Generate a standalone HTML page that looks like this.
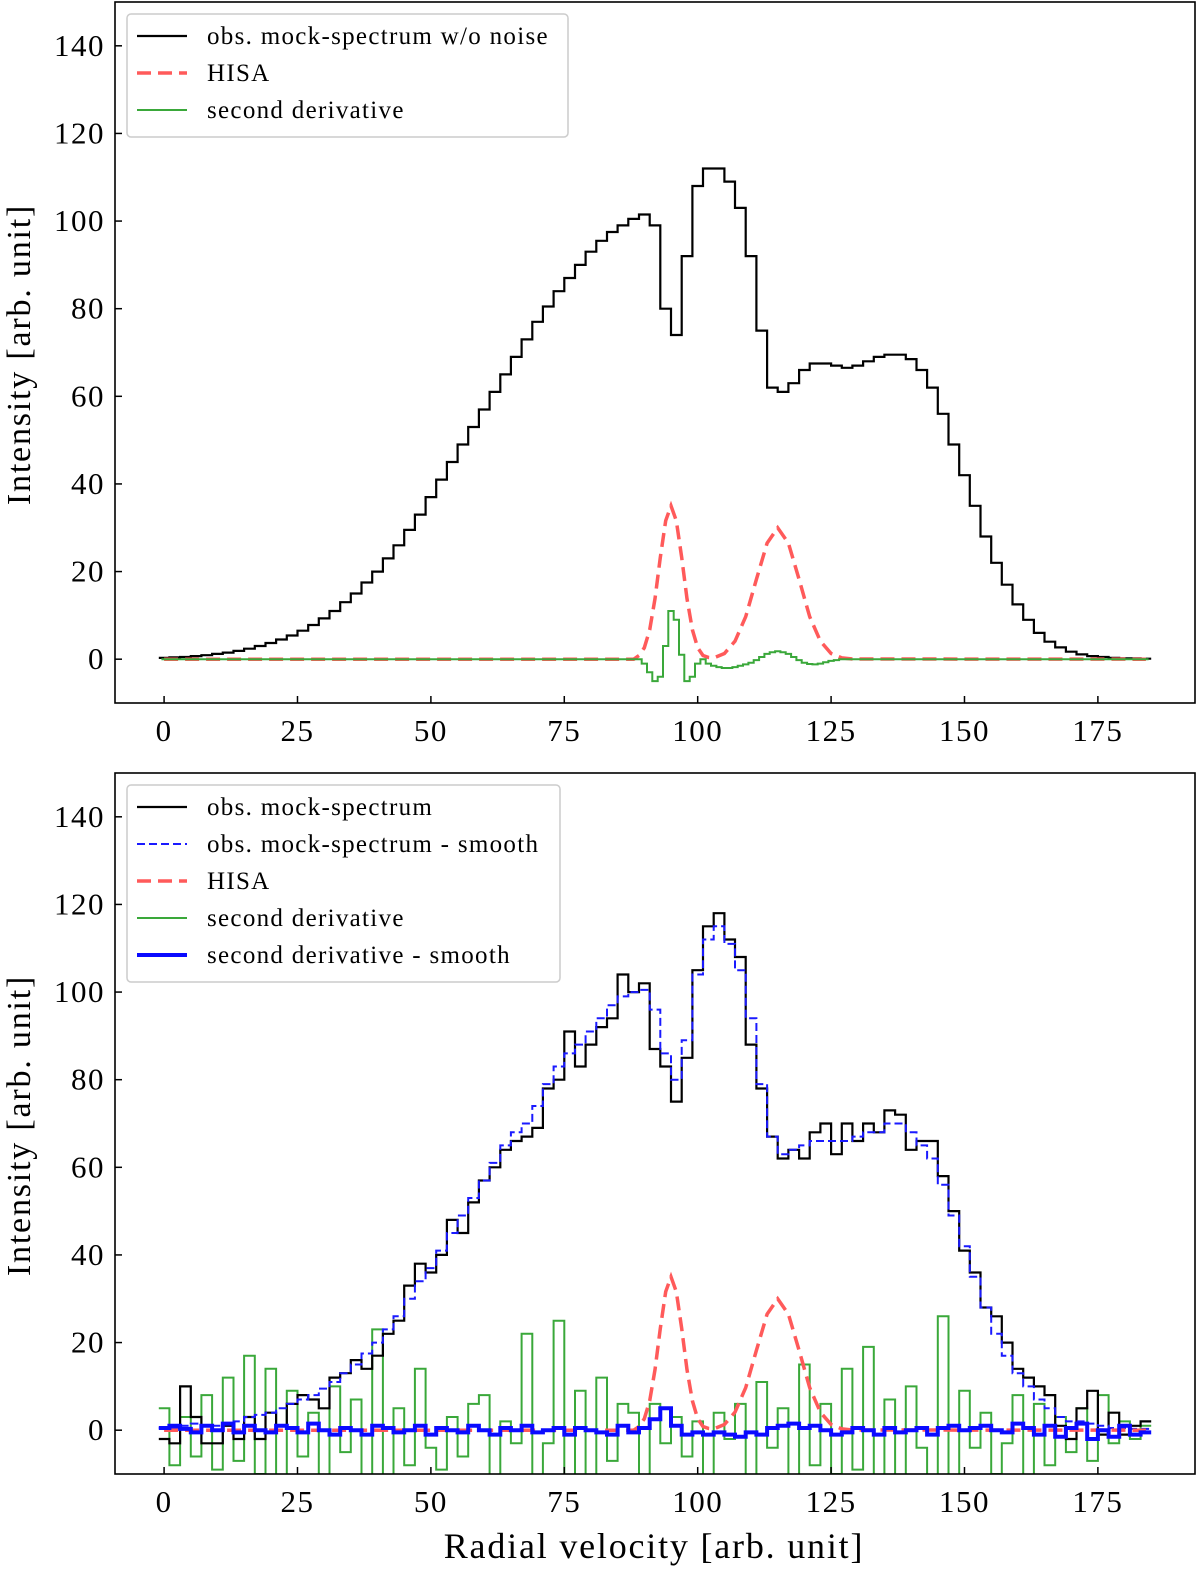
<!DOCTYPE html>
<html><head><meta charset="utf-8">
<style>
html,body{margin:0;padding:0;background:#fff;}
svg{display:block;font-family:"Liberation Serif","DejaVu Serif",serif;}
</style></head>
<body>
<svg id="chart" width="1200" height="1572" viewBox="0 0 1200 1572"></svg>
<script>
// ---- data ----
const xTicks = [0,25,50,75,100,125,150,175];
const yTicks = [0,20,40,60,80,100,120,140];
// top panel (every 2 channels, 0..184)
const obsClean = [0.3,0.4,0.5,0.7,0.9,1.2,1.5,1.9,2.4,3,3.7,4.5,5.4,6.5,7.8,9.3,11,13,15,17.5,20,23,26,29.5,33,37,41,45,49,53,57,61,65,69,73,77,80.5,84,87,90,93,95.5,97.5,99,100.5,101.5,99,80,74,92,108,112,112,109,103,92,75,62,61,63,66,67.5,67.5,67,66.5,67,68,69,69.5,69.5,68.5,66,62,56,49,42,35,28,22,17,12.5,9,6,4,2.7,1.7,1.1,0.7,0.5,0.3,0.2,0.2,0.1];
const hisaX = [0,88,89,90,91,92,93,94,95,96,97,98,99,100,101,102,103,105,107,109,111,113,115,117,119,121,123,125,127,129,184];
const hisaY = [0,0,0.85,2.6,6.7,13.8,23.2,31.6,35,31.6,23.2,13.8,6.7,2.6,0.85,0.4,0.3,1.3,4.1,9.7,18.2,26.5,30,26.5,18.2,9.7,4.1,1.3,0.3,0.05,0];
const derivStart = 86;
const derivClean = [0,0,0,0,-1,-3,-5,-4,3,11,9,1,-5,-4,-1,0,-1,-1.5,-1.8,-2,-2,-1.8,-1.5,-1.2,-0.8,-0.2,0.5,1.2,1.6,1.8,1.6,1.2,0.5,-0.2,-0.8,-1.1,-1.2,-1,-0.7,-0.4,-0.2,0,0,0,0,0,0];
// bottom panel (every 2 channels)
const obsNoisy = [-2,-3,10,3,-3,-3,1,-2,3,-2,4,1,6,8,7,5,12,13,16,14,17,22,25,33,38,36,40,48,45,52,57,60,64,66,67,69,78,80,91,83,88,92,94,104,100,102,87,83,75,85,105,115,118,112,108,88,78,67,62,64,62,68,70,63,70,66,70,68,73,72,64,66,66,58,50,41,36,28,26,20,14,12,10,8,1,-2,5,9,-1,4,-1,1,2];
const obsSmooth = [0.5,0.5,1,1.5,1,1,1.5,2,3,3.5,4,5,6,7,8,9.5,11,13,15,17.5,20,23,26,30,34,37,41,45,49,53,57,61,65,68,70,74,79,83,86,88,91,94,97,99,100,100.5,96,86,80,89,104,112,115,111,105,94,79,67,63,64,65,66,66,66,66,67,68,68,70,70,68,65,62,56,49,42,35,28,22,17,13,10,7,5,3,2,2,1.5,1,0.5,0.5,0.3,0.3];
const derivNoisy = [5,-8,3,-6,8,-9,12,-7,17,-10,14,-12,9,-6,4,-14,10,-5,7,-16,23,-11,5,-8,14,-4,-9,3,-6,6,8,-11,2,-3,22,-14,-3,25,-12,9,-20,12,-7,6,4,-18,6,-3,3,-6,2,-12,4,-2,6,-15,11,-4,5,-20,15,-8,6,-10,14,-9,19,-12,7,-16,10,-4,-11,26,-16,9,-4,4,-10,-3,8,-14,6,-8,3,-5,5,-7,8,-3,2,-2,1];
const derivSmooth = [0.5,1,0.3,-0.5,1,0,1.5,-0.5,1,0,-0.5,1,0.5,-0.5,1.5,0,-1,0.5,0,-1,1,0.5,-0.5,0,1,-1,0.5,0,-0.5,1,0,-1,0.5,0,1,-0.5,0,0.5,-1,0.5,0,-0.5,-1,1,-0.5,0.5,2.5,5,1,-1,-0.5,-1,-0.5,-1,-1.5,-0.5,-1,0.5,1,1.5,0.5,1,0,-1,-0.5,0.5,0,-1,0.5,-0.5,0,0.5,-1,0.5,1,0,0.5,1,0,-0.5,1.5,0.5,-1,1,-1.5,0.5,1.5,-2,0,-1.5,1,-1,-0.5];

// ---- drawing ----
const NS='http://www.w3.org/2000/svg';
const svg=document.getElementById('chart');
function mk(tag,attrs,parent){const e=document.createElementNS(NS,tag);for(const k in attrs)e.setAttribute(k,attrs[k]);(parent||svg).appendChild(e);return e;}

function panel(top,id){
  const L=115,R=1195,T=top,B=top+701;
  const xmin=-9.2,xmax=193.2,ymin=-10,ymax=150;
  const sx=v=>L+(v-xmin)/(xmax-xmin)*(R-L);
  const sy=v=>B-(v-ymin)/(ymax-ymin)*(B-T);
  const g=mk('g',{});
  
  
  const cid='clip-'+id;
  const cp=mk('clipPath',{id:cid},g);mk('rect',{x:L,y:T,width:R-L,height:B-T},cp);
  const plot=mk('g',{'clip-path':'url(#'+cid+')'},g);
  function stepPath(vals,start,step){
    let d='';vals.forEach((v,i)=>{const x0=sx(start+i*step-step/2),x1=sx(start+i*step+step/2),y=sy(v);d+=(i?'L':'M')+x0.toFixed(1)+','+y.toFixed(1)+'L'+x1.toFixed(1)+','+y.toFixed(1);});return d;}
  function linePath(xs,ys){return xs.map((x,i)=>(i?'L':'M')+sx(x).toFixed(1)+','+sy(ys[i]).toFixed(1)).join('');}
  return {g,plot,sx,sy,L,R,T,B,stepPath,linePath};
}
function axes(p,id){
  const g=p.g;
  yTicks.forEach(v=>{const y=p.sy(v);
    mk('line',{x1:p.L,x2:p.L+7,y1:y,y2:y,stroke:'#000','stroke-width':1.5},g);
    const t=mk('text',{x:p.L-10,y:y+10,'text-anchor':'end','font-size':31,'letter-spacing':1.5},g);t.textContent=v;
    
    });
  xTicks.forEach(v=>{const x=p.sx(v);
    mk('line',{x1:x,x2:x,y1:p.B,y2:p.B-7,stroke:'#000','stroke-width':1.5},g);
    const t=mk('text',{x:x,y:p.B+38,'text-anchor':'middle','font-size':31,'letter-spacing':1.5},g);t.textContent=v;
    
    });
  const fr=mk('rect',{x:p.L,y:p.T,width:p.R-p.L,height:p.B-p.T,fill:'none',stroke:'#000','stroke-width':1.6},g);
  
  
  const yl=mk('text',{x:0,y:0,'text-anchor':'middle','font-size':34,'letter-spacing':1.8,transform:'translate(30,'+((p.T+p.B)/2+2)+') rotate(-90)'},g);
  yl.textContent='Intensity [arb. unit]';
  
  
}
function legend(p,items,w){
  const lg=mk('g',{},p.g);
  
  
  const x=p.L+12,y=p.T+12,h=items.length*37+12;
  mk('rect',{x:x,y:y,width:w,height:h,rx:4,fill:'#fff','fill-opacity':0.85,stroke:'#ccc','stroke-width':1.5},lg);
  items.forEach((it,i)=>{const yy=y+22+i*37;
    const e=mk('g',{},lg);
    
    
    mk('line',{x1:x+10,x2:x+60,y1:yy,y2:yy,stroke:it.c,'stroke-width':it.w,'stroke-dasharray':it.d||'none'},e);
    const t=mk('text',{x:x+80,y:yy+8,'font-size':25,'letter-spacing':1.3},e);t.textContent=it.t;});
}

// top panel
const p1=panel(2,'top');
let e;
e=mk('path',{d:p1.stepPath(obsClean,0,2),fill:'none',stroke:'#000','stroke-width':2.2},p1.plot);


e=mk('path',{d:p1.linePath(hisaX,hisaY),fill:'none',stroke:'#ff5a5a','stroke-width':3.5,'stroke-dasharray':'14,7'},p1.plot);


const dFull=[];for(let c=0;c<=184;c++){const k=c-derivStart;dFull.push(k>=0&&k<derivClean.length?derivClean[k]:0);}
e=mk('path',{d:p1.stepPath(dFull,0,1),fill:'none',stroke:'#3aa83a','stroke-width':2},p1.plot);


axes(p1,'top');
legend(p1,[{t:'obs. mock-spectrum w/o noise',c:'#000',w:2.2},{t:'HISA',c:'#ff5a5a',w:3.5,d:'14,7'},{t:'second derivative',c:'#3aa83a',w:2}],441);

// bottom panel
const p2=panel(773,'bottom');
e=mk('path',{d:p2.stepPath(derivNoisy,0,2),fill:'none',stroke:'#3aa83a','stroke-width':2},p2.plot);


e=mk('path',{d:p2.stepPath(obsNoisy,0,2),fill:'none',stroke:'#000','stroke-width':2.2},p2.plot);


e=mk('path',{d:p2.stepPath(obsSmooth,0,2),fill:'none',stroke:'#1a1aff','stroke-width':2,'stroke-dasharray':'8,4'},p2.plot);


e=mk('path',{d:p2.linePath(hisaX,hisaY),fill:'none',stroke:'#ff5a5a','stroke-width':3.5,'stroke-dasharray':'14,7'},p2.plot);


e=mk('path',{d:p2.stepPath(derivSmooth,0,2),fill:'none',stroke:'#0a0aff','stroke-width':4},p2.plot);


axes(p2,'bottom');
legend(p2,[{t:'obs. mock-spectrum',c:'#000',w:2.2},{t:'obs. mock-spectrum - smooth',c:'#1a1aff',w:2,d:'8,4'},{t:'HISA',c:'#ff5a5a',w:3.5,d:'14,7'},{t:'second derivative',c:'#3aa83a',w:2},{t:'second derivative - smooth',c:'#0a0aff',w:4}],433);
const xl=mk('text',{x:654,y:1558,'text-anchor':'middle','font-size':36,'letter-spacing':1.8});
xl.textContent='Radial velocity [arb. unit]';


</script>
</body></html>
